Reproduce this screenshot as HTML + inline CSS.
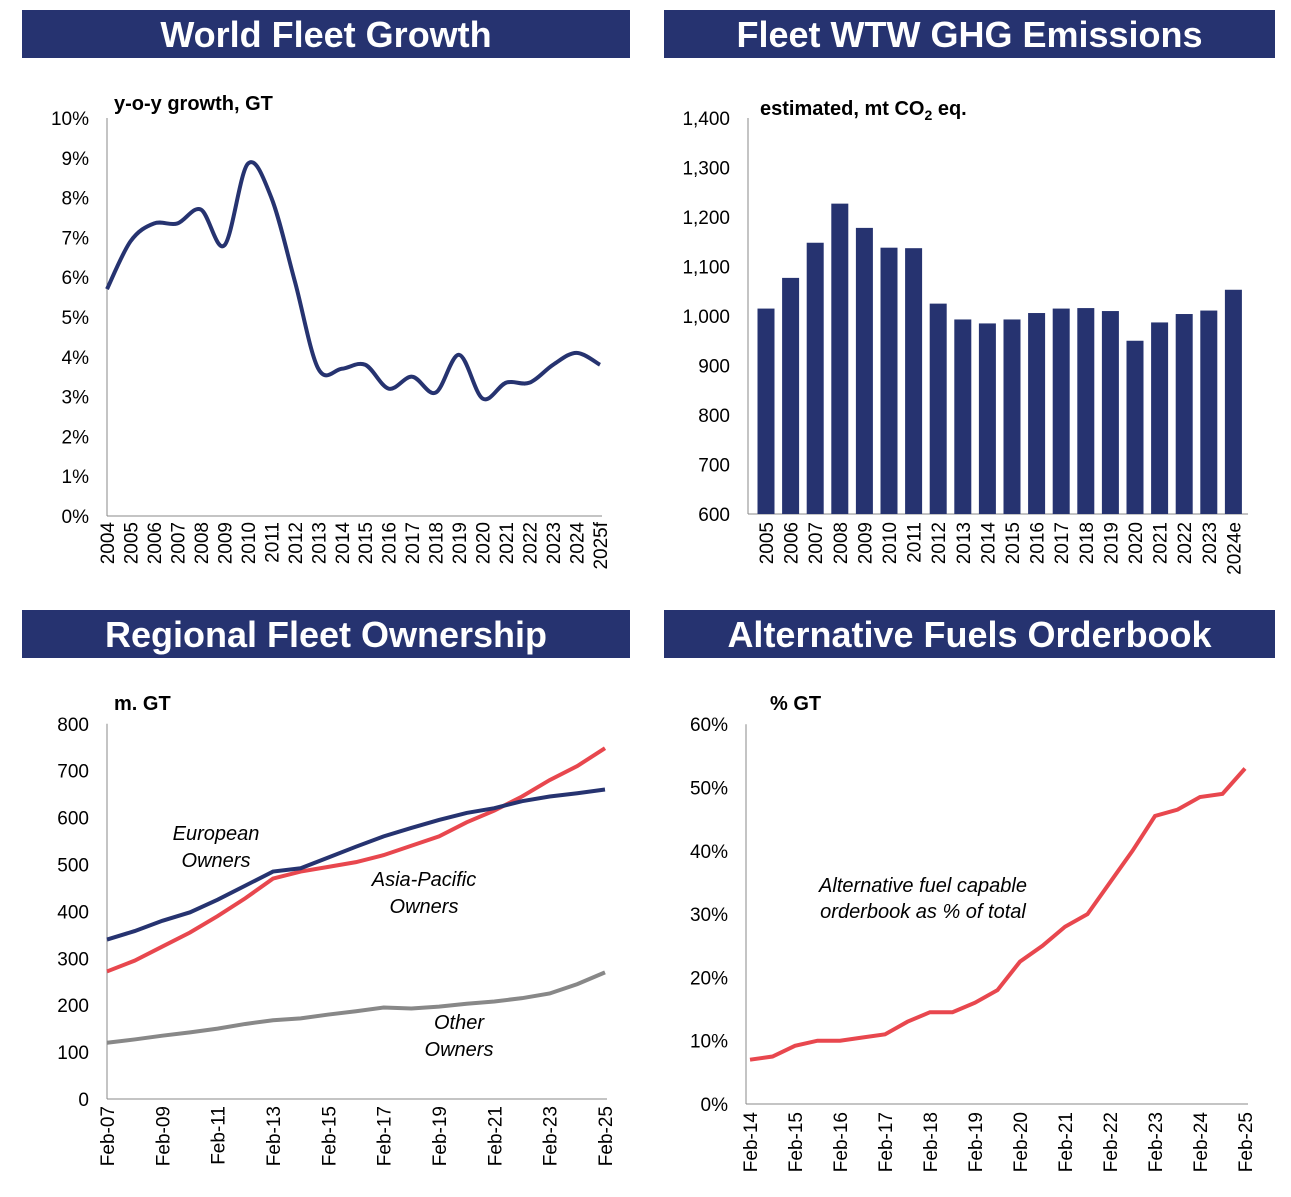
<!DOCTYPE html>
<html><head><meta charset="utf-8"><style>
body{margin:0;background:#fff;}
svg{display:block;font-family:"Liberation Sans",sans-serif;}
</style></head><body>
<svg id="s" width="1291" height="1197" viewBox="0 0 1291 1197"></svg>
<script>
// Chart 1 data
const c1Cats=['2004','2005','2006','2007','2008','2009','2010','2011','2012','2013','2014','2015','2016','2017','2018','2019','2020','2021','2022','2023','2024','2025f'];
const c1Vals=[5.7,6.9,7.35,7.35,7.7,6.8,8.85,8.0,5.9,3.7,3.7,3.8,3.2,3.5,3.1,4.05,2.95,3.35,3.35,3.8,4.1,3.8];
const c1Ticks=[0,1,2,3,4,5,6,7,8,9,10];
// Chart 2 data
const c2Cats=['2005','2006','2007','2008','2009','2010','2011','2012','2013','2014','2015','2016','2017','2018','2019','2020','2021','2022','2023','2024e'];
const c2Vals=[1015,1077,1148,1227,1178,1138,1137,1025,993,985,993,1006,1015,1016,1010,950,987,1004,1011,1053];
const c2Ticks=[600,700,800,900,1000,1100,1200,1300,1400];
// Chart 3 data (annual, Feb-07..Feb-25)
const c3Labels=['Feb-07','Feb-09','Feb-11','Feb-13','Feb-15','Feb-17','Feb-19','Feb-21','Feb-23','Feb-25'];
const c3European=[340,358,380,398,425,455,485,492,515,538,560,578,595,610,620,635,645,652,660];
const c3Asia=[272,295,325,355,390,428,470,485,495,505,520,540,560,590,615,645,680,710,748];
const c3Other=[120,127,135,142,150,160,168,172,180,187,195,193,197,203,208,215,225,245,270];
const c3Ticks=[0,100,200,300,400,500,600,700,800];
// Chart 4 data (semi-annual, Feb-14..Feb-25)
const c4Labels=['Feb-14','Feb-15','Feb-16','Feb-17','Feb-18','Feb-19','Feb-20','Feb-21','Feb-22','Feb-23','Feb-24','Feb-25'];
const c4Vals=[7,7.5,9.2,10,10,10.5,11,13,14.5,14.5,16,18,22.5,25,28,30,35,40,45.5,46.5,48.5,49,53];
const c4Ticks=[0,10,20,30,40,50,60];

const NS='http://www.w3.org/2000/svg';
const svg=document.getElementById('s');
function mk(tag,attrs,parent,text){const e=document.createElementNS(NS,tag);for(const k in attrs)e.setAttribute(k,attrs[k]);if(text!==undefined)e.textContent=text;(parent||svg).appendChild(e);return e;}
function header(x,y,w,h,t,name){
  const g=mk('g',{});
  
  
  mk('rect',{x:x,y:y,width:w,height:h,fill:'#263370'},g);
  mk('text',{x:x+w/2,y:y+h/2+13,'text-anchor':'middle',fill:'#fff','font-size':36,'font-weight':'bold'},g,t);
}
header(22,10,608,48,'World Fleet Growth','header-world-fleet-growth');
header(664,10,611,48,'Fleet WTW GHG Emissions','header-ghg-emissions');
header(22,610,608,48,'Regional Fleet Ownership','header-regional-ownership');
header(664,610,611,48,'Alternative Fuels Orderbook','header-alt-fuels');

function smoothPath(pts){let d='M'+pts[0][0]+','+pts[0][1];for(let i=0;i<pts.length-1;i++){const p0=pts[i-1]||pts[i],p1=pts[i],p2=pts[i+1],p3=pts[i+2]||p2;const t=6;d+=' C'+(p1[0]+(p2[0]-p0[0])/t)+','+(p1[1]+(p2[1]-p0[1])/t)+' '+(p2[0]-(p3[0]-p1[0])/t)+','+(p2[1]-(p3[1]-p1[1])/t)+' '+p2[0]+','+p2[1];}return d;}
function linePath(pts){return 'M'+pts.map(p=>p[0]+','+p[1]).join(' L');}
function yAxis(g,ax,ticks,yf,fmt){mk('line',{x1:ax,y1:yf(ticks[ticks.length-1]),x2:ax,y2:yf(ticks[0]),stroke:'#888','stroke-width':1},g);
  ticks.forEach(t=>{const l=mk('text',{x:ax-18,y:yf(t)+7,'text-anchor':'end','font-size':19,fill:'#000'},g,fmt(t));});}
function xLabel(g,x,y,t){const l=mk('text',{x:0,y:0,transform:'translate('+(x+7)+','+y+') rotate(-90)','text-anchor':'end','font-size':19,fill:'#000'},g,t);}

// Chart 1
(function(){const g=mk('g',{});
 const y=v=>516-v*39.8, x=i=>107+i*(493/(c1Cats.length-1));
 yAxis(g,107,c1Ticks,y,t=>t+'%');
 mk('line',{x1:107,y1:516,x2:602,y2:516,stroke:'#888'},g);
 c1Cats.forEach((c,i)=>xLabel(g,x(i),522,c));
 const p=mk('path',{d:smoothPath(c1Vals.map((v,i)=>[x(i),y(v)])),fill:'none',stroke:'#263370','stroke-width':4},g);
 
 mk('text',{x:114,y:110,'font-size':20,'font-weight':'bold'},g,'y-o-y growth, GT');
})();
// Chart 2
(function(){const g=mk('g',{});
 const y=v=>514-(v-600)*0.495, step=24.6, x=i=>766+i*step;
 yAxis(g,748,c2Ticks,y,t=>t.toLocaleString('en-US'));
 mk('line',{x1:748,y1:514,x2:1248,y2:514,stroke:'#888'},g);
 c2Vals.forEach((v,i)=>{const r=mk('rect',{x:x(i)-8.5,y:y(v),width:17,height:514-y(v),fill:'#263370'},g);});
 c2Cats.forEach((c,i)=>xLabel(g,x(i),522,c));
 const t=mk('text',{x:760,y:115,'font-size':20,'font-weight':'bold'},g,'estimated, mt CO');
 mk('tspan',{'font-size':14,dy:5},t,'2');mk('tspan',{dy:-5},t,' eq.');
})();
// Chart 3
(function(){const g=mk('g',{});
 const y=v=>1099-v*0.469, n=c3European.length, x=i=>107+i*(498/(n-1));
 yAxis(g,107,c3Ticks,y,t=>String(t));
 mk('line',{x1:107,y1:1099,x2:607,y2:1099,stroke:'#888'},g);
 c3Labels.forEach((c,i)=>xLabel(g,x(i*2),1106,c));
 [[c3Other,'#888','other-owners-line'],[c3Asia,'#e8474e','asia-pacific-line'],[c3European,'#263370','european-line']].forEach(s=>{
  const p=mk('path',{d:linePath(s[0].map((v,i)=>[x(i),y(v)])),fill:'none',stroke:s[1],'stroke-width':4},g);});
 mk('text',{x:114,y:710,'font-size':20,'font-weight':'bold'},g,'m. GT');
 const lab=(x0,y0,a,b)=>{mk('text',{x:x0,y:y0,'text-anchor':'middle','font-size':20,'font-style':'italic'},g,a);mk('text',{x:x0,y:y0+27,'text-anchor':'middle','font-size':20,'font-style':'italic'},g,b);};
 lab(216,840,'European','Owners');lab(424,886,'Asia-Pacific','Owners');lab(459,1029,'Other','Owners');
})();
// Chart 4
(function(){const g=mk('g',{});
 const y=v=>1104-v*6.33, n=c4Vals.length, x=i=>750+i*(495/(n-1));
 yAxis(g,746,c4Ticks,y,t=>t+'%');
 mk('line',{x1:746,y1:1104,x2:1248,y2:1104,stroke:'#888'},g);
 c4Labels.forEach((c,i)=>xLabel(g,x(i*2),1112,c));
 const p=mk('path',{d:linePath(c4Vals.map((v,i)=>[x(i),y(v)])),fill:'none',stroke:'#e8474e','stroke-width':4},g);
 mk('text',{x:770,y:710,'font-size':20,'font-weight':'bold'},g,'% GT');
 mk('text',{x:923,y:892,'text-anchor':'middle','font-size':20,'font-style':'italic'},g,'Alternative fuel capable');
 mk('text',{x:923,y:918,'text-anchor':'middle','font-size':20,'font-style':'italic'},g,'orderbook as % of total');
})();
</script>
</body></html>
